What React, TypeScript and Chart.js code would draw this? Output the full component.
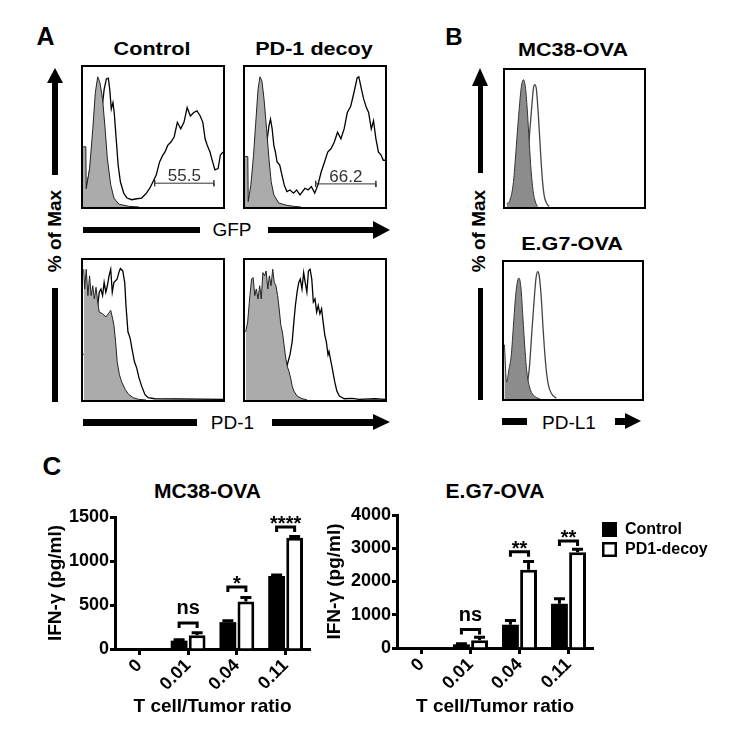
import React, { useEffect, useRef } from "react";
import { Chart, registerables } from "chart.js";

Chart.register(...registerables);

const FONT = '"Liberation Sans", Arial, Helvetica, sans-serif';

type Pt = [number, number];

// ---------------- Panel A: histograms (x: % of axis width, y: % of Max) ----------------
const gfpControlIsotype: Pt[] = [
  [0, 43], [2, 43], [2.3, 13], [4.7, 27.5], [7, 55.8], [8.8, 81.6], [10.5, 93], [12.1, 88.7], [14, 77],
  [15.8, 55.8], [17.4, 34.6], [19.8, 15.8], [22.1, 6.4], [25.6, 2], [32.6, 0.5], [40, 0],
];
const gfpControlStained: Pt[] = [
  [1.2, 13.4], [2.3, 14.6], [4.2, 22.8], [5.8, 32.2], [8.1, 46], [10.5, 60.5], [12.1, 74.6], [13.5, 70],
  [15.1, 84], [16.7, 91.5], [18.1, 92], [19.1, 84], [20.2, 70], [21.4, 74.6], [22.3, 67.5], [23.7, 48.7],
  [25.1, 30], [26.7, 18], [29.1, 9.9], [31.4, 6.4], [34.9, 5.2], [38.4, 5.9], [41.9, 6.4], [45.3, 9.9],
  [47.7, 13.4], [50, 18], [52.3, 22.8], [54.7, 32.2], [57, 37], [58.6, 39.3], [60.5, 44], [62.8, 46.4],
  [65.1, 50], [67.4, 60.5], [69.8, 55.8], [72.1, 60.5], [74.4, 71], [76.7, 65], [79.1, 67.5], [81.4, 68.7],
  [83.7, 65], [85.6, 60.5], [87.2, 48.7], [88.8, 44], [90.7, 39.3], [92.6, 32.2], [94.2, 26.6], [96.5, 27.5],
  [98.1, 37], [100, 39.3],
];
const gfpDecoyIsotype: Pt[] = [
  [0, 36], [2, 36], [2.3, 4], [4.2, 15.8], [6.1, 37], [7.7, 60.5], [9.3, 84], [10.7, 93], [12.1, 90],
  [13.6, 77], [15.4, 55.8], [17.1, 34.6], [18.7, 18], [20.6, 8.7], [24.1, 2.8], [29.9, 1.2], [34.6, 0.5], [40, 0],
];
const gfpDecoyStained: Pt[] = [
  [1.4, 7.5], [3.7, 6.4], [6.1, 8.7], [7.7, 18], [10, 25], [11.7, 37], [13.1, 42.8], [14.7, 41.6], [15.9, 48.7],
  [17.1, 58], [18.2, 62.8], [19.4, 55.8], [20.6, 44], [21.7, 39.3], [22.9, 32.2], [24.8, 30], [26.4, 22.8],
  [28, 15.8], [29.9, 11], [32.2, 12.2], [34.6, 9.9], [36.9, 12.2], [39.3, 8.7], [42.8, 13.4], [45.1, 12.2],
  [47.4, 14.6], [49.8, 9.9], [52.1, 15.8], [54.4, 25], [56.8, 32.2], [59.1, 39.3], [61.4, 41.6], [63.8, 46.4],
  [66.1, 53.4], [68.5, 48.7], [70.8, 55.8], [73.1, 67.5], [75.5, 72], [77.8, 81.6], [80.1, 92.2], [81.3, 93],
  [83.2, 84], [84.8, 77], [86.7, 71], [88.3, 67.5], [90.2, 55.8], [91.8, 61.6], [93.5, 48.7], [95.3, 39.3],
  [97.2, 37], [98.8, 33.4], [100, 33.4],
];
const gfpControlGate = { from: 51.2, to: 93.5, level: 17, label: "55.5" };
const gfpDecoyGate = { from: 50.5, to: 93.5, level: 16.5, label: "66.2" };

const pd1ControlIsotype: Pt[] = [
  [0.5, 93.4], [1.2, 79.3], [2.3, 93.4], [3.5, 74.6], [4.7, 88.7], [5.8, 74.6], [7, 81.6], [8.1, 72.2],
  [9.3, 80.5], [10.5, 69.9], [11.6, 62.8], [14, 61.6], [16.3, 59.3], [18.1, 61.6], [19.8, 64], [20.9, 59.3],
  [22.1, 53.4], [23.3, 41.6], [24.4, 27.5], [26, 18.1], [27.9, 12.2], [30.2, 7.5], [32.6, 4], [36, 1.6],
  [39.5, 0.5], [45, 0],
];
const pd1ControlStained: Pt[] = [
  [0.5, 32.2], [2.3, 34.6], [3.5, 44], [5.8, 46.4], [8.1, 55.8], [10.5, 67.5], [11.6, 77], [12.8, 79.3],
  [14, 74.6], [15.1, 84], [16.3, 77], [17.4, 81.6], [18.6, 88.7], [19.8, 93.4], [20.9, 77], [22.1, 84],
  [23.3, 85.2], [24.4, 86.4], [25.6, 91], [26.7, 93.9], [28.4, 92.2], [29.8, 84], [30.7, 67.5], [32.1, 48.7],
  [33.7, 44], [34.9, 37], [36.7, 27.5], [38.4, 22.8], [40, 15.8], [41.9, 9.9], [44.2, 4], [46.5, 1.6],
  [51.2, 0.9], [100, 0.5],
];
const pd1DecoyIsotype: Pt[] = [
  [0.5, 48.7], [1.9, 55.8], [3.5, 74.6], [4.7, 86.4], [5.8, 87.5], [7, 74.6], [8.1, 79.3], [9.3, 72.2],
  [10.5, 81.6], [11.6, 72.2], [12.8, 91], [14, 88.7], [15.1, 92.2], [16.3, 79.3], [17.4, 88.7], [18.6, 81.6],
  [19.8, 93.4], [20.9, 84], [22.1, 81.6], [23.3, 74.6], [24.4, 65.2], [25.6, 53.4], [26.7, 48.7], [27.9, 39.3],
  [29.1, 29.9], [30.2, 24], [31.4, 20.5], [32.6, 15.8], [33.7, 9.9], [34.9, 6.4], [37.2, 2.8], [40.7, 0.9],
  [44.2, 0.2],
];
const pd1DecoyStained: Pt[] = [
  [4.7, 0.5], [9.3, 1.6], [14, 2.8], [17.4, 5.2], [19.1, 7.5], [20.9, 6.4], [22.8, 9.9], [24.4, 12.2],
  [26, 14.6], [27.9, 18.1], [30.2, 25.2], [32.1, 32.2], [33.7, 41.6], [34.9, 55.8], [36, 67.5], [37.2, 77],
  [38.4, 84], [39.5, 86.4], [40.7, 79.3], [41.9, 91], [43, 84], [44.2, 77], [45.3, 92.2], [46.5, 93.4],
  [47.7, 86.4], [48.8, 70], [50, 72.2], [51.2, 62.8], [52.3, 67.5], [53.5, 61.6], [54.7, 65.2], [55.8, 55.8],
  [57, 46.4], [58.1, 41.6], [59.3, 32.2], [60, 34.6], [60.9, 29.9], [62.3, 22.8], [64, 13.4], [65.6, 6.4],
  [67.4, 2.8], [70.9, 0.9], [76.7, 1.2], [81.4, 0.5], [93, 0.9], [100, 0.5],
];

// ---------------- Panel B: PD-L1 histograms ----------------
const pdl1Mc38Isotype: Pt[] = [
  [1.2, 2.4], [3.5, 4.8], [5.9, 16.7], [7.5, 35.7], [8.9, 54.8], [10.6, 76.2], [11.8, 88.1], [13.2, 92.9],
  [14.6, 88.1], [16, 71.4], [17.4, 47.6], [18.8, 26.2], [20.2, 11.9], [21.9, 3.6], [23.5, 0.5],
];
const pdl1Mc38Stained: Pt[] = [
  [9.4, 1.2], [11.8, 4.8], [14.1, 14.3], [16, 31], [17.6, 52.4], [19.3, 73.8], [20.5, 86.9], [21.4, 89.3],
  [22.6, 85.7], [24, 66.7], [25.4, 42.9], [26.8, 21.4], [28.2, 8.3], [30.1, 2.4], [31.8, 0.5],
];
const pdl1Eg7Isotype: Pt[] = [
  [0.3, 39.6], [1.9, 12.3], [3.6, 21.8], [5.2, 31.3], [6.6, 50.2], [8.3, 73.9], [10, 87], [10.9, 88.2],
  [12.3, 81], [13.7, 59.7], [15.2, 36], [16.6, 19], [18.5, 8.8], [20.4, 4], [23.7, 1], [26.1, 0],
];
const pdl1Eg7Stained: Pt[] = [
  [10.7, 0.5], [14.2, 4], [16.6, 10], [18.5, 24.2], [20.1, 47.9], [21.8, 71.6], [23.2, 88.2], [24.4, 92.9],
  [25.6, 89.3], [27, 73.9], [28.4, 50.2], [30.1, 26.5], [32, 11.1], [34.4, 4], [37.9, 0.5],
];

// ---------------- Panel C: IFN-γ bars ----------------
const ratioLabels = ["0", "0.01", "0.04", "0.11"];
const seriesNames = ["Control", "PD1-decoy"];

const mc38Control = [0, 95, 305, 830];
const mc38ControlErr = [0, 10, 15, 12];
const mc38Decoy = [0, 155, 540, 1265];
const mc38DecoyErr = [0, 30, 45, 12];
const mc38YTicks = [0, 500, 1000, 1500];
const mc38SigLevels = [null, 295, 704, 1386];
const mc38SigLabels = ["", "ns", "*", "****"];

const eg7Control = [0, 110, 700, 1330];
const eg7ControlErr = [0, 20, 130, 150];
const eg7Decoy = [0, 230, 2350, 2880];
const eg7DecoyErr = [0, 90, 250, 90];
const eg7YTicks = [0, 1000, 2000, 3000, 4000];
const eg7SigLevels = [null, 554, 2891, 3220];
const eg7SigLabels = ["", "ns", "**", "**"];

// ---------------- components ----------------
type Gate = { from: number; to: number; level: number; label: string };

function Histogram(p: {
  x: number; y: number; w: number; h: number;
  shaded: Pt[]; open: Pt[]; shadeColor: string; shadeLine: string; openLine: string;
  smooth?: boolean; gate?: Gate;
}) {
  const ref = useRef<HTMLCanvasElement>(null);
  useEffect(() => {
    const toXY = (a: Pt[]) => a.map(([x, y]) => ({ x, y }));
    const lineOpts = p.smooth
      ? { tension: 0.4, cubicInterpolationMode: "monotone" }
      : { tension: 0 };
    const datasets: any[] = [
      {
        data: toXY(p.shaded), borderColor: p.shadeLine, borderWidth: 1,
        backgroundColor: p.shadeColor, fill: "origin", pointRadius: 0, ...lineOpts,
      },
      {
        data: toXY(p.open), borderColor: p.openLine, borderWidth: 1.3,
        fill: false, pointRadius: 0, ...lineOpts,
      },
    ];
    const g = p.gate;
    if (g) {
      datasets.push({
        data: [
          { x: g.from, y: g.level + 2.2 }, { x: g.from, y: g.level - 2.2 }, { x: g.from, y: g.level },
          { x: g.to, y: g.level }, { x: g.to, y: g.level + 2.2 }, { x: g.to, y: g.level - 2.2 },
        ],
        borderColor: "#333", borderWidth: 1, pointRadius: 0, fill: false, tension: 0,
      });
    }
    const gateLabel = {
      id: "gateLabel",
      afterDatasetsDraw(chart: any) {
        if (!g) return;
        const { ctx, scales } = chart;
        ctx.save();
        ctx.fillStyle = "#333";
        ctx.font = `17px ${FONT}`;
        ctx.textAlign = "center";
        ctx.textBaseline = "alphabetic";
        ctx.fillText(g.label, scales.x.getPixelForValue((g.from + g.to) / 2), scales.y.getPixelForValue(g.level) - 2);
        ctx.restore();
      },
    };
    const chart = new Chart(ref.current as HTMLCanvasElement, {
      type: "line",
      data: { datasets },
      options: {
        animation: false, responsive: false, events: [],
        layout: { padding: 0 },
        plugins: { legend: { display: false }, tooltip: { enabled: false } },
        scales: {
          x: { type: "linear", min: 0, max: 100, display: false },
          y: { type: "linear", min: 0, max: 100, display: false },
        },
      } as any,
      plugins: [gateLabel],
    });
    return () => chart.destroy();
  }, []);
  return (
    <div style={{ position: "absolute", left: p.x, top: p.y, width: p.w, height: p.h, border: "2px solid #000", boxSizing: "border-box", background: "#fff" }}>
      <canvas ref={ref} width={p.w - 4} height={p.h - 4} style={{ display: "block" }} />
    </div>
  );
}

function IfnChart(p: {
  left: number; top: number; width: number; height: number;
  pad: { left: number; top: number; right: number; bottom: number };
  yWidth: number; xHeight: number; yMax: number; yTicks: number[];
  control: number[]; controlErr: number[]; decoy: number[]; decoyErr: number[];
  sigLevels: (number | null)[]; sigLabels: string[]; legend?: boolean;
}) {
  const ref = useRef<HTMLCanvasElement>(null);
  useEffect(() => {
    const tickFont = { family: FONT, size: 18, weight: "bold" as const };
    const errorBars = {
      id: "errorBars",
      afterDatasetsDraw(chart: any) {
        const { ctx } = chart;
        const ys = chart.scales.y;
        const vals = [p.control, p.decoy];
        const errs = [p.controlErr, p.decoyErr];
        ctx.save();
        ctx.strokeStyle = "#000";
        ctx.lineWidth = 3;
        [0, 1].forEach((i) => {
          chart.getDatasetMeta(i).data.forEach((bar: any, j: number) => {
            const e = errs[i][j];
            if (!e) return;
            const yTop = ys.getPixelForValue(vals[i][j] + e);
            ctx.beginPath();
            ctx.moveTo(bar.x, bar.y);
            ctx.lineTo(bar.x, yTop);
            ctx.moveTo(bar.x - 5.5, yTop);
            ctx.lineTo(bar.x + 5.5, yTop);
            ctx.stroke();
          });
        });
        ctx.restore();
      },
    };
    const brackets = {
      id: "sigBrackets",
      afterDatasetsDraw(chart: any) {
        const { ctx } = chart;
        const ys = chart.scales.y;
        const m0 = chart.getDatasetMeta(0).data;
        const m1 = chart.getDatasetMeta(1).data;
        ctx.save();
        ctx.strokeStyle = "#000";
        ctx.fillStyle = "#000";
        ctx.lineWidth = 3;
        ctx.font = `bold 20px ${FONT}`;
        ctx.textAlign = "center";
        ctx.textBaseline = "alphabetic";
        p.sigLevels.forEach((lv, j) => {
          if (lv == null) return;
          const x1 = m0[j].x;
          const x2 = m1[j].x;
          const y = ys.getPixelForValue(lv);
          ctx.beginPath();
          ctx.moveTo(x1, y + 5);
          ctx.lineTo(x1, y);
          ctx.lineTo(x2, y);
          ctx.lineTo(x2, y + 5);
          ctx.stroke();
          const lab = p.sigLabels[j];
          ctx.fillText(lab, (x1 + x2) / 2, lab === "ns" ? y - 9 : y + 3);
        });
        ctx.restore();
      },
    };
    const legendBoxes = {
      id: "legendBoxes",
      afterDraw(chart: any) {
        if (!p.legend) return;
        const { ctx, chartArea } = chart;
        ctx.save();
        chart.data.datasets.forEach((ds: any, i: number) => {
          const bx = chartArea.right + 9;
          const by = chartArea.top + 7 + i * 20;
          ctx.fillStyle = ds.backgroundColor;
          ctx.fillRect(bx, by, 15, 15);
          if (i === 1) {
            ctx.strokeStyle = "#000";
            ctx.lineWidth = 2.5;
            ctx.strokeRect(bx + 1.25, by + 1.25, 12.5, 12.5);
          }
          ctx.fillStyle = "#000";
          ctx.font = `bold 16px ${FONT}`;
          ctx.textAlign = "left";
          ctx.textBaseline = "middle";
          ctx.fillText(ds.label, bx + 23, by + 8);
        });
        ctx.restore();
      },
    };
    const chart = new Chart(ref.current as HTMLCanvasElement, {
      type: "bar",
      data: {
        labels: ratioLabels,
        datasets: [
          {
            label: seriesNames[0], data: p.control, backgroundColor: "#000", borderColor: "#000",
            borderWidth: 0, categoryPercentage: 0.74, barPercentage: 0.93,
          },
          {
            label: seriesNames[1], data: p.decoy, backgroundColor: "#fff", borderColor: "#000",
            borderWidth: 3, categoryPercentage: 0.74, barPercentage: 0.93,
          },
        ],
      },
      options: {
        animation: false, responsive: false, events: [],
        layout: { padding: p.pad },
        plugins: { legend: { display: false }, tooltip: { enabled: false }, title: { display: false } },
        scales: {
          x: {
            type: "category",
            offset: true,
            grid: { display: true, drawOnChartArea: false, drawTicks: true, tickLength: 6, tickWidth: 3, tickColor: "#000", offset: false },
            border: { display: true, color: "#000", width: 3 },
            ticks: { color: "#000", font: tickFont, minRotation: 45, maxRotation: 45, padding: 0, autoSkip: false },
            title: {
              display: true, text: "T cell/Tumor ratio", color: "#000",
              font: { family: FONT, size: 19, weight: "bold", lineHeight: 1.2 }, padding: { top: 4, bottom: 4 },
            },
            afterFit: (s: any) => { s.height = p.xHeight; },
          },
          y: {
            type: "linear",
            min: 0,
            max: p.yMax,
            afterBuildTicks: (s: any) => { s.ticks = p.yTicks.map((v) => ({ value: v })); },
            grid: { display: true, drawOnChartArea: false, drawTicks: true, tickLength: 5, tickWidth: 3, tickColor: "#000" },
            border: { display: true, color: "#000", width: 3 },
            ticks: { color: "#000", font: tickFont, padding: 1, callback: (v: any) => String(v) },
            title: {
              display: true, text: "IFN-γ (pg/ml)", color: "#000",
              font: { family: FONT, size: 19, weight: "bold", lineHeight: 1.2 }, padding: { top: 4, bottom: 4 },
            },
            afterFit: (s: any) => { s.width = p.yWidth; },
          },
        },
      } as any,
      plugins: [errorBars, brackets, legendBoxes],
    });
    return () => chart.destroy();
  }, []);
  return (
    <canvas ref={ref} width={p.width} height={p.height}
      style={{ position: "absolute", left: p.left, top: p.top, display: "block" }} />
  );
}

function Txt(p: { x: number; y: number; s: number; b?: boolean; sx?: number; rot?: boolean; children: React.ReactNode }) {
  const t = `translate(-50%,-50%)${p.rot ? " rotate(-90deg)" : ""}${p.sx ? ` scaleX(${p.sx})` : ""}`;
  return (
    <div style={{
      position: "absolute", left: p.x, top: p.y, transform: t, fontFamily: FONT, fontSize: p.s,
      fontWeight: p.b ? "bold" : "normal", lineHeight: 1, whiteSpace: "nowrap", color: "#000",
    }}>{p.children}</div>
  );
}

function Rect(p: { x: number; y: number; w: number; h: number }) {
  return <div style={{ position: "absolute", left: p.x, top: p.y, width: p.w, height: p.h, background: "#000" }} />;
}

function HeadUp(p: { x: number; y: number; w: number; h: number }) {
  return <div style={{
    position: "absolute", left: p.x - p.w / 2, top: p.y, width: 0, height: 0,
    borderLeft: `${p.w / 2}px solid transparent`, borderRight: `${p.w / 2}px solid transparent`,
    borderBottom: `${p.h}px solid #000`,
  }} />;
}

function HeadRight(p: { x: number; y: number; w: number; h: number }) {
  return <div style={{
    position: "absolute", left: p.x - p.w, top: p.y - p.h / 2, width: 0, height: 0,
    borderTop: `${p.h / 2}px solid transparent`, borderBottom: `${p.h / 2}px solid transparent`,
    borderLeft: `${p.w}px solid #000`,
  }} />;
}

export default function App() {
  const grayA = "#ababab";
  const grayB = "#8c8c8c";
  return (
    <div style={{ position: "fixed", left: 0, top: 0, width: 733, height: 741, background: "#fff", overflow: "hidden" }}>
      {/* Panel letters */}
      <Txt x={45.5} y={36} s={25} b>A</Txt>
      <Txt x={454} y={36.5} s={24} b>B</Txt>
      <Txt x={52} y={466} s={26} b>C</Txt>

      {/* Panel A */}
      <Txt x={152} y={49} s={18} b sx={1.2}>Control</Txt>
      <Txt x={314} y={49} s={18} b sx={1.2}>PD-1 decoy</Txt>
      <Histogram x={81} y={65} w={144} h={144} shaded={gfpControlIsotype} open={gfpControlStained}
        shadeColor={grayA} shadeLine="#222" openLine="#000" gate={gfpControlGate} />
      <Histogram x={243} y={65} w={144} h={144} shaded={gfpDecoyIsotype} open={gfpDecoyStained}
        shadeColor={grayA} shadeLine="#222" openLine="#000" gate={gfpDecoyGate} />
      <Histogram x={81} y={258} w={144} h={144} shaded={pd1ControlIsotype} open={pd1ControlStained}
        shadeColor={grayA} shadeLine="#222" openLine="#000" />
      <Histogram x={243} y={258} w={144} h={144} shaded={pd1DecoyIsotype} open={pd1DecoyStained}
        shadeColor={grayA} shadeLine="#222" openLine="#000" />

      <HeadUp x={55.3} y={68} w={17} h={15} />
      <Rect x={52.3} y={82} w={6} h={93} />
      <Txt x={54} y={231} s={19} b rot>% of Max</Txt>
      <Rect x={52.3} y={288} w={6} h={114} />

      <Rect x={83} y={226.5} w={117} h={6.5} />
      <Txt x={232} y={228.5} s={19}>GFP</Txt>
      <Rect x={268} y={226.5} w={107} h={6.5} />
      <HeadRight x={390} y={229.5} w={17} h={18} />

      <Rect x={83} y={419} w={114} h={6.5} />
      <Txt x={232.5} y={421.7} s={19}>PD-1</Txt>
      <Rect x={272} y={419} w={103} h={6.5} />
      <HeadRight x={390} y={422} w={17} h={17} />

      {/* Panel B */}
      <Txt x={572.5} y={49.7} s={18} b sx={1.2}>MC38-OVA</Txt>
      <Txt x={572} y={243.7} s={18} b sx={1.2}>E.G7-OVA</Txt>
      <Histogram x={503} y={68} w={143} h={141} shaded={pdl1Mc38Isotype} open={pdl1Mc38Stained}
        shadeColor={grayB} shadeLine="#333" openLine="#444" smooth />
      <Histogram x={502} y={260} w={142} h={141} shaded={pdl1Eg7Isotype} open={pdl1Eg7Stained}
        shadeColor={grayB} shadeLine="#333" openLine="#444" smooth />

      <HeadUp x={480.5} y={68} w={17} h={18} />
      <Rect x={478} y={85} w={5} h={88} />
      <Txt x={478} y={231} s={19} b rot>% of Max</Txt>
      <Rect x={478} y={288} w={5} h={112} />

      <Rect x={502} y={418} w={25} h={6.5} />
      <Txt x={569} y={421.5} s={19}>PD-L1</Txt>
      <Rect x={615} y={418} w={11} h={6.5} />
      <HeadRight x={641} y={421} w={16} h={16} />

      {/* Panel C */}
      <Txt x={207.5} y={490} s={21} b>MC38-OVA</Txt>
      <Txt x={495} y={490} s={21} b>E.G7-OVA</Txt>
      <IfnChart left={0} top={470} width={350} height={271}
        pad={{ left: 40, top: 47, right: 40, bottom: 19 }} yWidth={75} xHeight={73}
        yMax={1500} yTicks={mc38YTicks}
        control={mc38Control} controlErr={mc38ControlErr} decoy={mc38Decoy} decoyErr={mc38DecoyErr}
        sigLevels={mc38SigLevels} sigLabels={mc38SigLabels} />
      <IfnChart left={300} top={470} width={433} height={271}
        pad={{ left: 19, top: 45, right: 140, bottom: 19 }} yWidth={78} xHeight={74}
        yMax={4000} yTicks={eg7YTicks}
        control={eg7Control} controlErr={eg7ControlErr} decoy={eg7Decoy} decoyErr={eg7DecoyErr}
        sigLevels={eg7SigLevels} sigLabels={eg7SigLabels} legend />
    </div>
  );
}
